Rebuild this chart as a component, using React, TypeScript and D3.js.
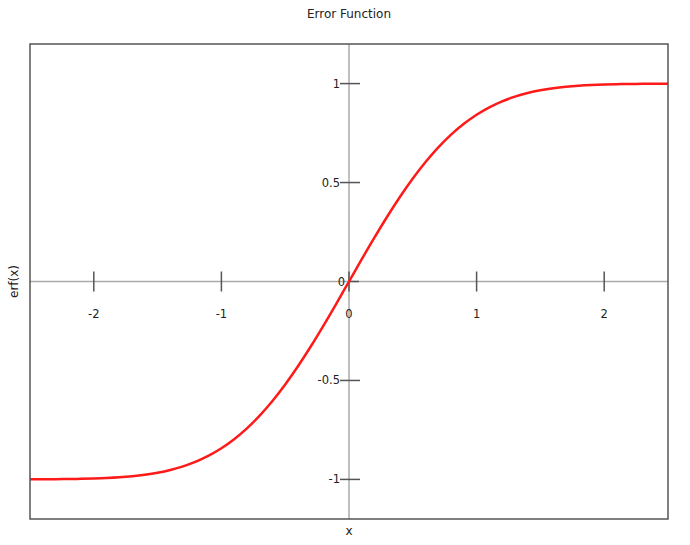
import React from "react";
import * as d3 from "d3";

const xs = [-2.5,-2.4,-2.3,-2.2,-2.1,-2.0,-1.9,-1.8,-1.7,-1.6,-1.5,-1.4,-1.3,-1.2,-1.1,-1.0,-0.9,-0.8,-0.7,-0.6,-0.5,-0.4,-0.3,-0.2,-0.1,0,0.1,0.2,0.3,0.4,0.5,0.6,0.7,0.8,0.9,1.0,1.1,1.2,1.3,1.4,1.5,1.6,1.7,1.8,1.9,2.0,2.1,2.2,2.3,2.4,2.5];
const ys = [-0.9996,-0.9993,-0.9989,-0.9981,-0.997,-0.9953,-0.9928,-0.9891,-0.9838,-0.9763,-0.9661,-0.9523,-0.934,-0.9103,-0.8802,-0.8427,-0.7969,-0.7421,-0.6778,-0.6039,-0.5205,-0.4284,-0.3286,-0.2227,-0.1125,0,0.1125,0.2227,0.3286,0.4284,0.5205,0.6039,0.6778,0.7421,0.7969,0.8427,0.8802,0.9103,0.934,0.9523,0.9661,0.9763,0.9838,0.9891,0.9928,0.9953,0.997,0.9981,0.9989,0.9993,0.9996];
const xTicks = [-2, -1, 1, 2];
const yTicks = [-1, -0.5, 0.5, 1];
const title = "Error Function";
const xLabel = "x";
const yLabel = "erf(x)";

export default function App() {
  const W = 690, H = 545;
  const left = 30, right = 668, top = 44, bottom = 519;
  const x = d3.scaleLinear().domain([-2.5, 2.5]).range([left, right]);
  const y = d3.scaleLinear().domain([-1.2, 1.2]).range([bottom, top]);
  const line = d3.line<number>().x((_, i) => x(xs[i])).y((d) => y(d)).curve(d3.curveMonotoneX);
  const x0 = x(0), y0 = y(0);
  const font = "DejaVu Sans, sans-serif";
  return (
    <svg width={W} height={H} style={{ position: "absolute", left: 0, top: 0 }} fontFamily={font}>
      <rect x={0} y={0} width={W} height={H} fill="#fff" />
      <text x={349} y={18} textAnchor="middle" fontSize={12} fill="#222">{title}</text>
      <line x1={left} x2={right} y1={y0} y2={y0} stroke="#aaa" strokeWidth={1.5} />
      <line x1={x0} x2={x0} y1={top} y2={bottom} stroke="#aaa" strokeWidth={1.5} />
      {xTicks.map((t) => (
        <g key={"x" + t}>
          <line x1={x(t)} x2={x(t)} y1={y0 - 10} y2={y0 + 10} stroke="#555" strokeWidth={1.5} />
          <text x={x(t)} y={y0 + 36} textAnchor="middle" fontSize={11.5} fill="#222">{t < 0 ? "-" + Math.abs(t) : String(t)}</text>
        </g>
      ))}
      <line x1={x0 - 1} x2={x0 + 10} y1={y0} y2={y0} stroke="#555" strokeWidth={1.5} />
      <line x1={x0} x2={x0} y1={y0 - 10} y2={y0 + 10} stroke="#555" strokeWidth={1.5} />
      <text x={x0} y={y0 + 36} textAnchor="middle" fontSize={11.5} fill="#222">0</text>
      <text x={x0 - 4} y={y0 + 4} textAnchor="end" fontSize={11.5} fill="#222">0</text>
      {yTicks.map((t) => (
        <g key={"y" + t}>
          <line x1={x0 - 9} x2={x0 + 11} y1={y(t)} y2={y(t)} stroke="#555" strokeWidth={1.5} />
          <text x={x0 - 9} y={y(t) + 4} textAnchor="end" fontSize={11.5} fill="#222">{t < 0 ? "-" + Math.abs(t) : String(t)}</text>
        </g>
      ))}
      <path d={line(ys) || ""} fill="none" stroke="#ff1a1a" strokeWidth={2.5} />
      <rect x={left} y={top} width={right - left} height={bottom - top} fill="none" stroke="#555" strokeWidth={1.5} />
      <text x={x0} y={535} textAnchor="middle" fontSize={12} fill="#222">{xLabel}</text>
      <text transform={`translate(18,${y0}) rotate(-90)`} textAnchor="middle" fontSize={12} fill="#222">{yLabel}</text>
    </svg>
  );
}
